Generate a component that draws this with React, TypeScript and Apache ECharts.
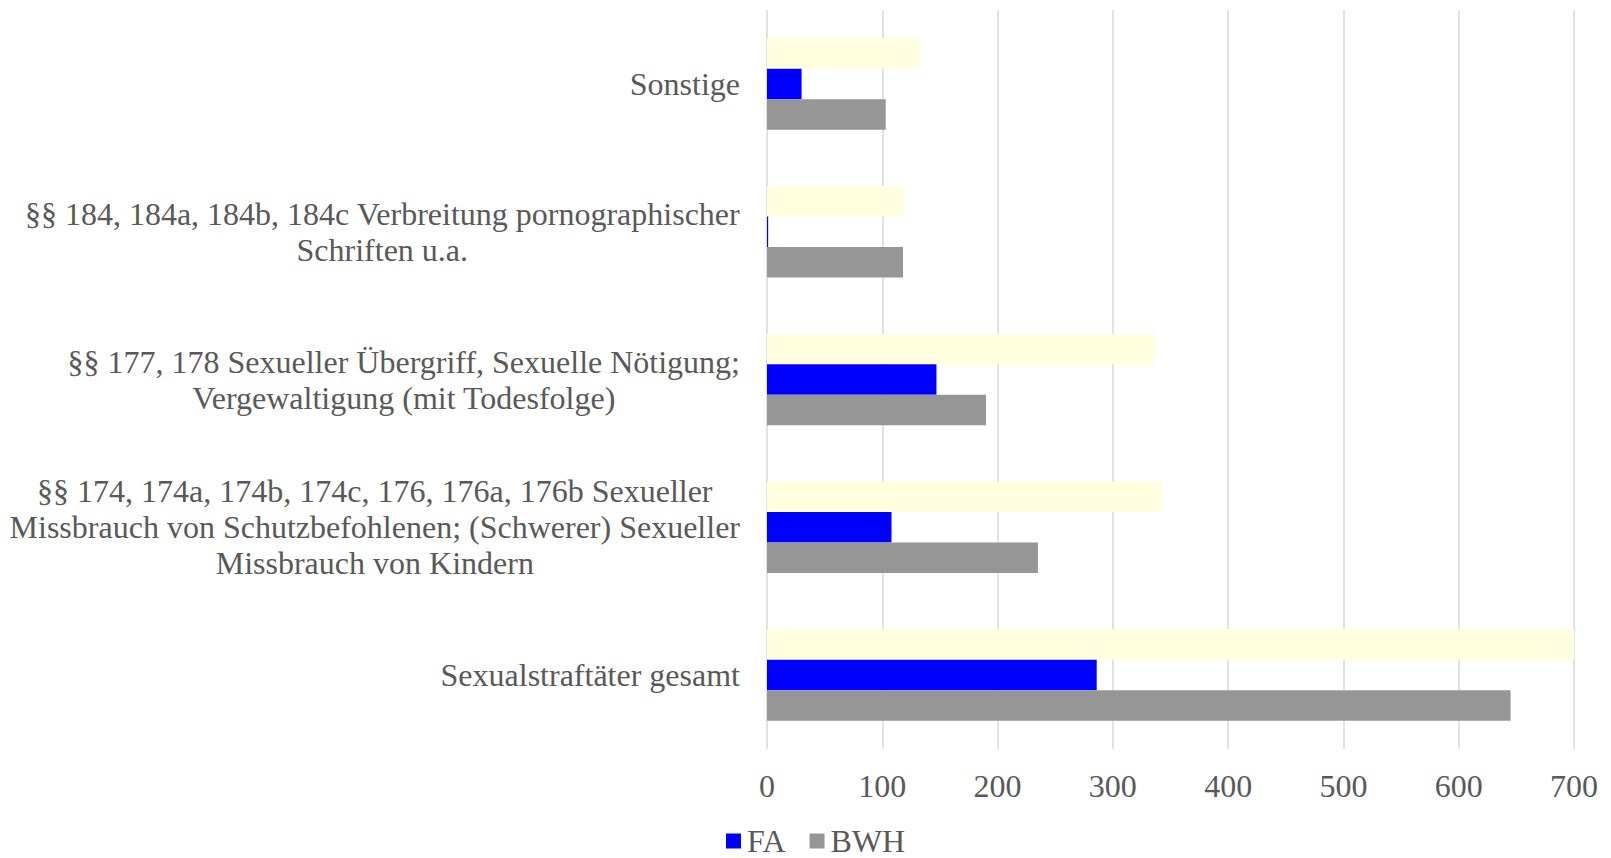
import React, { useEffect, useRef } from "react";
import * as echarts from "echarts";

const categories: string[] = [
  "Sexualstraftäter gesamt",
  "§§ 174, 174a, 174b, 174c, 176, 176a, 176b Sexueller\nMissbrauch von Schutzbefohlenen; (Schwerer) Sexueller\nMissbrauch von Kindern",
  "§§ 177, 178 Sexueller Übergriff, Sexuelle Nötigung;\nVergewaltigung (mit Todesfolge)",
  "§§ 184, 184a, 184b, 184c Verbreitung pornographischer\nSchriften u.a.",
  "Sonstige",
];

const seriesNames: string[] = ["Gesamt", "FA", "BWH"];
const totalValues: number[] = [700, 342, 336, 119, 133];
const faValues: number[] = [286, 108, 147, 1, 30];
const bwhValues: number[] = [645, 235, 190, 118, 103];
const legendNames: string[] = ["FA", "BWH"];
const xTicks = { min: 0, max: 700, interval: 100 };

const FONT = "'Liberation Serif', 'Times New Roman', serif";
const TEXT = "#595959";
const FS = 32;

export default function App() {
  const ref = useRef<HTMLDivElement>(null);
  useEffect(() => {
    document.body.style.margin = "0";
    if (!ref.current) return;
    const chart = echarts.init(ref.current, undefined, { renderer: "svg" });
    const barWidth = 30.5;
    chart.setOption({
      animation: false,
      backgroundColor: "#ffffff",
      textStyle: { fontFamily: FONT, color: TEXT },
      grid: {
        left: 767,
        right: 37,
        top: 10,
        bottom: 109,
        containLabel: false,
        outerBoundsMode: "none",
      },
      legend: {
        data: legendNames,
        left: 726,
        top: 825,
        itemWidth: 15,
        itemHeight: 15,
        itemGap: 24,
        icon: "rect",
        textStyle: {
          fontFamily: FONT,
          fontSize: FS,
          color: TEXT,
          lineHeight: 26,
          padding: [0, 0, 0, 1],
        },
        padding: 0,
      },
      xAxis: {
        type: "value",
        min: xTicks.min,
        max: xTicks.max,
        interval: xTicks.interval,
        axisLine: { show: false },
        axisTick: { show: false },
        splitLine: { show: true, lineStyle: { color: "#d9d9d9", width: 1.5 } },
        axisLabel: { fontFamily: FONT, fontSize: FS, color: TEXT, margin: 21 },
      },
      yAxis: {
        type: "category",
        data: categories,
        axisLine: { show: false },
        axisTick: { show: false },
        axisLabel: {
          fontFamily: FONT,
          fontSize: FS,
          color: TEXT,
          margin: 27,
          align: "right",
          lineHeight: 36,
          formatter: (v: string) =>
            v
              .split("\n")
              .map((l) => `{c|${l}}`)
              .join("\n"),
          rich: {
            c: { align: "center", fontFamily: FONT, fontSize: FS, color: TEXT, lineHeight: 36 },
          },
        },
      },
      series: [
        {
          name: seriesNames[0],
          type: "bar",
          data: totalValues,
          barWidth,
          barGap: "0%",
          itemStyle: { color: "#FFFFDF" },
        },
        {
          name: seriesNames[1],
          type: "bar",
          data: faValues,
          barWidth,
          barGap: "0%",
          itemStyle: { color: "#0000FF" },
        },
        {
          name: seriesNames[2],
          type: "bar",
          data: bwhValues,
          barWidth,
          barGap: "0%",
          itemStyle: { color: "#969696" },
        },
      ],
    });
    return () => chart.dispose();
  }, []);
  return <div ref={ref} style={{ width: 1611, height: 858 }} />;
}
